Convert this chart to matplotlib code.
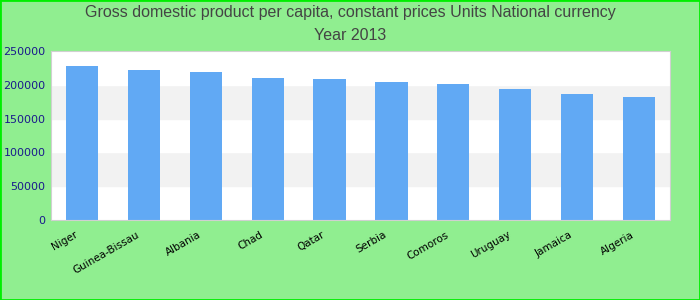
import matplotlib
matplotlib.use("Agg")
import matplotlib.pyplot as plt
import matplotlib.transforms as mtransforms
from matplotlib.patches import Rectangle

countries = ["Niger", "Guinea-Bissau", "Albania", "Chad", "Qatar",
             "Serbia", "Comoros", "Uruguay", "Jamaica", "Algeria"]
gdp = [227800, 222000, 219000, 210000, 208600,
       204100, 201200, 193800, 186400, 182000]
y_ticks = [0, 50000, 100000, 150000, 200000, 250000]

fig = plt.figure(figsize=(7, 3), dpi=100, facecolor="#90ee90")
fig.patches.append(Rectangle((0, 0), 1, 1, transform=fig.transFigure,
                             fill=False, edgecolor="#00ee00", linewidth=2))
ax = fig.add_axes([51/700, 80/300, 619/700, 169/300])

# alternating bands
for i in range(len(y_ticks) - 1):
    color = "#f2f2f2" if i % 2 == 1 else "white"
    ax.axhspan(y_ticks[i], y_ticks[i + 1], color=color, zorder=0)

x = range(len(countries))
ax.bar(x, gdp, width=0.52, color="#61a9f4", zorder=2)

ax.set_xlim(-0.5, len(countries) - 0.5)
ax.set_ylim(0, 250000)
ax.set_yticks(y_ticks)
ax.set_yticklabels([str(v) for v in y_ticks], color="#1a1a8c", fontsize=8)
ax.set_xticks(list(x))
ax.set_xticklabels(countries, rotation=30, ha="right", fontsize=7.5,
                   rotation_mode="anchor")
ax.tick_params(length=0, pad=4)
shift = mtransforms.ScaledTranslation(-8/100, -4/100, fig.dpi_scale_trans)
for lbl in ax.get_xticklabels():
    lbl.set_transform(lbl.get_transform() + shift)
for s in ax.spines.values():
    s.set_color("#d0d0d0")

fig.text(0.5, 1 - 13/300, "Gross domestic product per capita, constant prices Units National currency",
         ha="center", va="center", fontsize=11.5, color="#444444",
         family="Liberation Sans")
fig.text(0.5, 1 - 36/300, "Year 2013", ha="center", va="center",
         fontsize=11.5, color="#444444", family="Liberation Sans")

fig.savefig("out.png", dpi=100, facecolor=fig.get_facecolor())
